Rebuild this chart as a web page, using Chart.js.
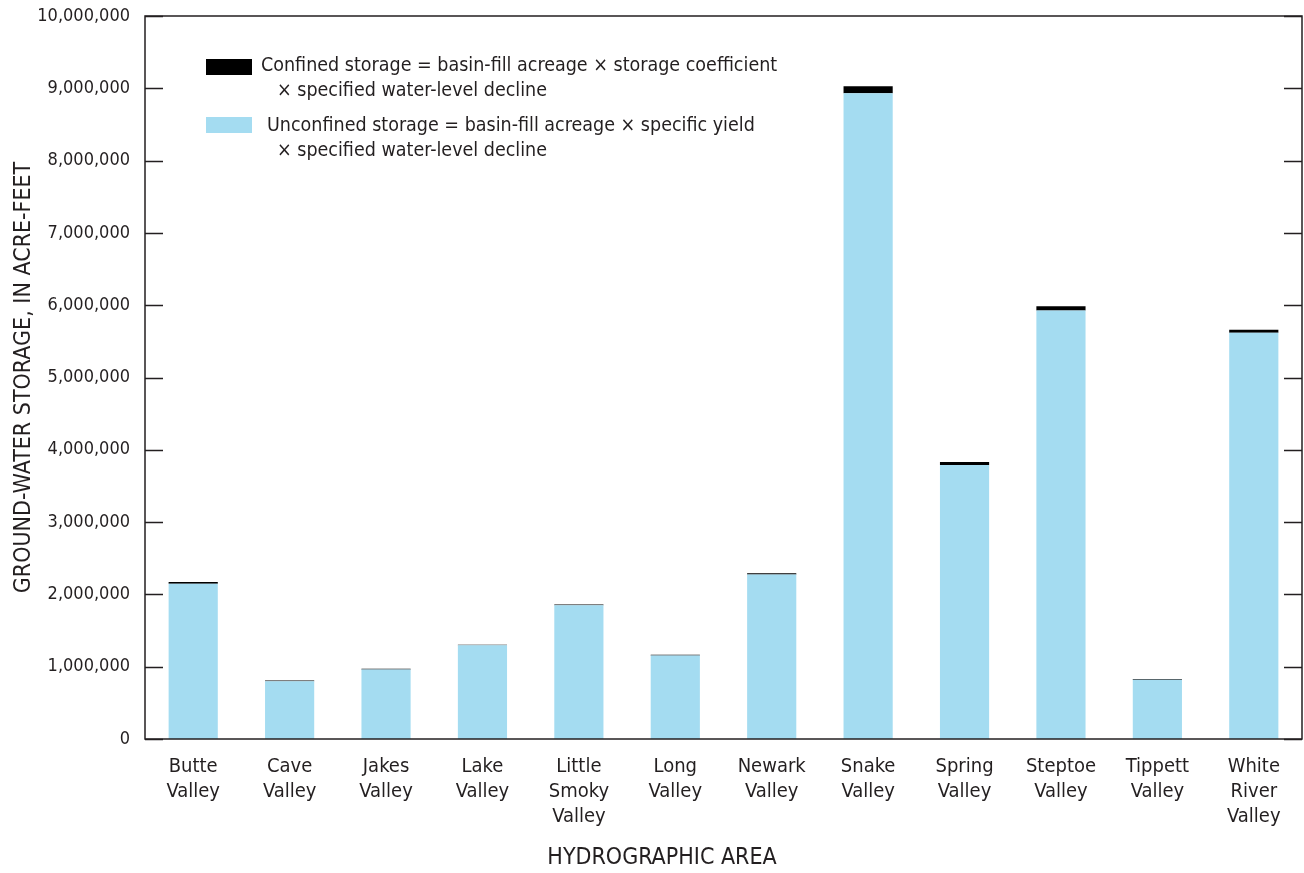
<!DOCTYPE html>
<html>
<head>
<meta charset="utf-8">
<script src="https://cdn.jsdelivr.net/npm/chart.js@4"></script>
<style>
  body { margin: 0; background: #fff; }
  canvas { display: block; }
</style>
</head>
<body>
<canvas id="chart" width="1304" height="873" style="width:1304px;height:873px"></canvas>
<script>
// values, in acre-feet
var areas = [
  ["Butte", "Valley"], ["Cave", "Valley"], ["Jakes", "Valley"], ["Lake", "Valley"],
  ["Little", "Smoky", "Valley"], ["Long", "Valley"], ["Newark", "Valley"],
  ["Snake", "Valley"], ["Spring", "Valley"], ["Steptoe", "Valley"],
  ["Tippett", "Valley"], ["White", "River", "Valley"]
];
var unconfined = [2147000, 800000, 962000, 1295000, 1850000, 1155000, 2276000,
  8930000, 3790000, 5926000, 820000, 5620000];
var confined = [25000, 9000, 9000, 9000, 9000, 9000, 18000,
  100000, 40000, 60000, 10000, 42000];
var legendText = [
  ["Confined storage = basin-fill acreage \u00d7 storage coefficient", "\u00d7 specified water-level decline"],
  ["Unconfined storage = basin-fill acreage \u00d7 specific yield", "\u00d7 specified water-level decline"]
];
var xTitle = "HYDROGRAPHIC AREA";

var FONT = "'DejaVu Sans Condensed', 'Liberation Sans Narrow', sans-serif";
var INK = "#231f20";

var framePlugin = {
  id: "frame",
  afterDraw: function(chart) {
    var ctx = chart.ctx, a = chart.chartArea, y = chart.scales.y;
    ctx.save();
    ctx.strokeStyle = INK;
    ctx.lineWidth = 1.5;
    ctx.strokeRect(a.left, a.top, a.right - a.left, a.bottom - a.top);
    y.ticks.forEach(function(t) {
      var py = Math.round(y.getPixelForValue(t.value)) + 0.5;
      ctx.beginPath();
      ctx.moveTo(a.left, py); ctx.lineTo(a.left + 18, py);
      ctx.moveTo(a.right - 18, py); ctx.lineTo(a.right, py);
      ctx.stroke();
    });

    // legend, confined first
    var order = [1, 0];
    var rows = [{box: 59, text: 66, indent: 261}, {box: 117, text: 126, indent: 267}];
    ctx.font = "19.5px " + FONT;
    ctx.textBaseline = "middle";
    order.forEach(function(di, i) {
      var r = rows[i];
      ctx.fillStyle = chart.data.datasets[di].backgroundColor;
      ctx.fillRect(206, r.box, 46, 16);
      ctx.fillStyle = INK;
      ctx.fillText(legendText[i][0], r.indent, r.text);
      ctx.fillText(legendText[i][1], 277, r.text + 25);
    });

    // x axis title sits left of the plot centre in the original
    ctx.font = "23px " + FONT;
    ctx.textAlign = "center";
    ctx.fillText(xTitle, 662, 858);
    ctx.restore();
  }
};

new Chart(document.getElementById("chart"), {
  type: "bar",
  data: {
    labels: areas,
    datasets: [
      { label: "Unconfined", data: unconfined, backgroundColor: "#a4dcf1",
        barPercentage: 0.51, categoryPercentage: 1 },
      { label: "Confined", data: confined, backgroundColor: "#000000",
        barPercentage: 0.51, categoryPercentage: 1 }
    ]
  },
  options: {
    responsive: false,
    animation: false,
    layout: { padding: { top: 16, right: 2 } },
    plugins: { legend: { display: false }, tooltip: { enabled: false } },
    scales: {
      x: {
        stacked: true,
        grid: { display: false },
        border: { display: false },
        ticks: { color: INK, font: { family: FONT, size: 20, lineHeight: 1.25 },
          maxRotation: 0, autoSkip: false, padding: 7 },
        afterFit: function(s) { s.height = 134; }
      },
      y: {
        stacked: true,
        min: 0,
        max: 10000000,
        grid: { display: false },
        border: { display: false },
        ticks: { stepSize: 1000000, color: INK, padding: 7,
          font: { family: FONT, size: 18 },
          callback: function(v) { return v.toLocaleString("en-US"); } },
        title: { display: true, text: "GROUND-WATER STORAGE, IN ACRE-FEET", color: INK,
          font: { family: FONT, size: 23 }, padding: { top: 10, bottom: 0 } },
        afterFit: function(s) { s.width = 145; s.paddingTop = 0; s.paddingBottom = 0; }
      }
    }
  },
  plugins: [framePlugin]
});
</script>
</body>
</html>
